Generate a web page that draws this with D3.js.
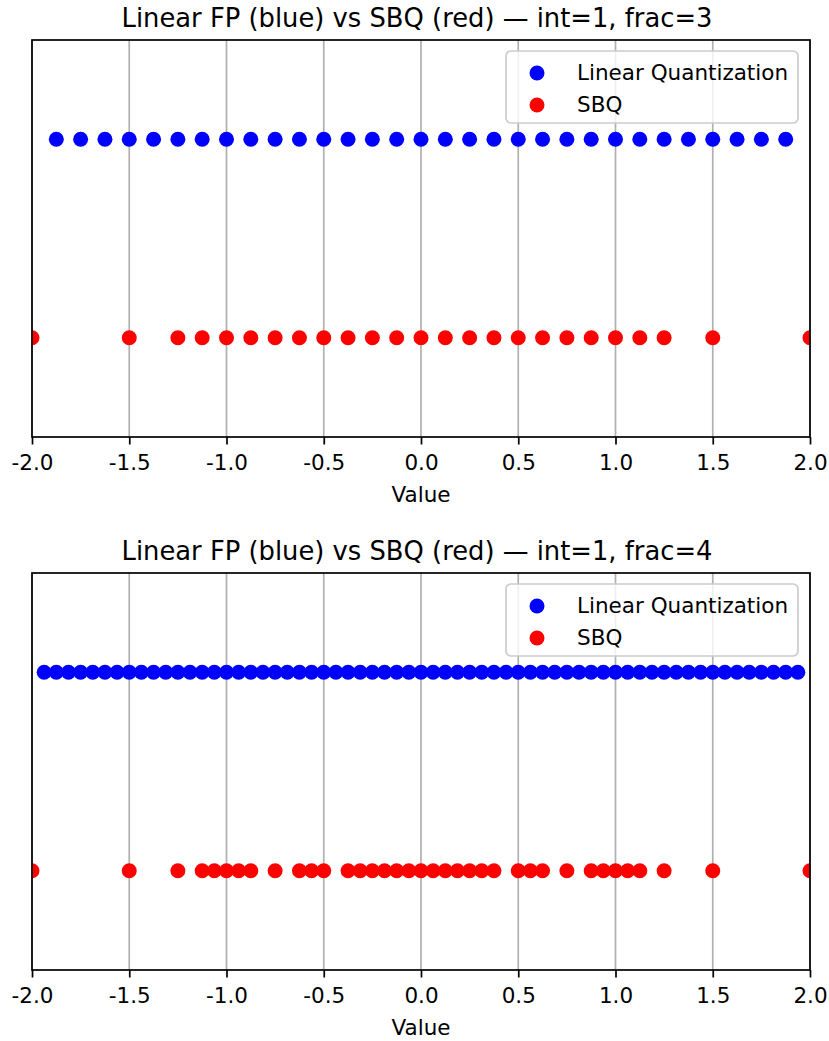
<!DOCTYPE html>
<html>
<head>
<meta charset="utf-8">
<script src="https://cdn.jsdelivr.net/npm/d3@7"></script>
<style>
    body { margin: 0; background: #fff; }
    svg { display: block; font-family: 'DejaVu Sans', sans-serif; }
</style>
</head>
<body>
<svg id="plot" width="829" height="1041"></svg>
<script>
'use strict';

// values
const linearFrac3 = [-1.875, -1.75, -1.625, -1.5, -1.375, -1.25, -1.125, -1, -0.875, -0.75, -0.625, -0.5,
    -0.375, -0.25, -0.125, 0, 0.125, 0.25, 0.375, 0.5, 0.625, 0.75, 0.875, 1, 1.125, 1.25, 1.375, 1.5,
    1.625, 1.75, 1.875];
const sbqFrac3 = [-2, -1.5, -1.25, -1.125, -1, -0.875, -0.75, -0.625, -0.5, -0.375, -0.25, -0.125, 0,
    0.125, 0.25, 0.375, 0.5, 0.625, 0.75, 0.875, 1, 1.125, 1.25, 1.5, 2];
const linearFrac4 = [-1.9375, -1.875, -1.8125, -1.75, -1.6875, -1.625, -1.5625, -1.5, -1.4375, -1.375,
    -1.3125, -1.25, -1.1875, -1.125, -1.0625, -1, -0.9375, -0.875, -0.8125, -0.75, -0.6875, -0.625,
    -0.5625, -0.5, -0.4375, -0.375, -0.3125, -0.25, -0.1875, -0.125, -0.0625, 0, 0.0625, 0.125, 0.1875,
    0.25, 0.3125, 0.375, 0.4375, 0.5, 0.5625, 0.625, 0.6875, 0.75, 0.8125, 0.875, 0.9375, 1, 1.0625,
    1.125, 1.1875, 1.25, 1.3125, 1.375, 1.4375, 1.5, 1.5625, 1.625, 1.6875, 1.75, 1.8125, 1.875, 1.9375];
const sbqFrac4 = [-2, -1.5, -1.25, -1.125, -1.0625, -1, -0.9375, -0.875, -0.75, -0.625, -0.5625, -0.5,
    -0.375, -0.3125, -0.25, -0.1875, -0.125, -0.0625, 0, 0.0625, 0.125, 0.1875, 0.25, 0.3125, 0.375,
    0.5, 0.5625, 0.625, 0.75, 0.875, 0.9375, 1, 1.0625, 1.125, 1.25, 1.5, 2];
const xTicks = [-2, -1.5, -1, -0.5, 0, 0.5, 1, 1.5, 2];
const seriesNames = ['Linear Quantization', 'SBQ'];
const seriesColors = ['#0000ff', '#ff0000'];
const titles = [
    'Linear FP (blue) vs SBQ (red) \u2014 int=1, frac=3',
    'Linear FP (blue) vs SBQ (red) \u2014 int=1, frac=4'
];

const panels = [
    { title: titles[0], linear: linearFrac3, sbq: sbqFrac3, top: 40 },
    { title: titles[1], linear: linearFrac4, sbq: sbqFrac4, top: 573 }
];

const plotLeft = 32;
const plotRight = 810;
const panelHeight = 397;
const fontSize = 21.5;
const markerRadius = 7.5;

const svg = d3.select('#plot');

function renderPanel(panel) {
    const xScale = d3.scaleLinear().domain([-2, 2]).range([plotLeft, plotRight]);
    const yScale = d3.scaleLinear().domain([-0.5, 1.5]).range([panel.top + panelHeight, panel.top]);
    const g = svg.append('g');

    svg.append('clipPath')
        .attr('id', 'clip-' + panel.top)
        .append('rect')
        .attr('x', plotLeft)
        .attr('y', panel.top)
        .attr('width', plotRight - plotLeft)
        .attr('height', panelHeight);

    // grid
    g.append('g')
        .selectAll('line')
        .data(xTicks)
        .join('line')
        .attr('x1', d => xScale(d))
        .attr('x2', d => xScale(d))
        .attr('y1', panel.top)
        .attr('y2', panel.top + panelHeight)
        .attr('stroke', '#b0b0b0')
        .attr('stroke-width', 1.7);

    // dots
    const rows = [[panel.linear, 1, seriesColors[0]], [panel.sbq, 0, seriesColors[1]]];
    rows.forEach(([values, level, color]) => {
        g.append('g')
            .attr('clip-path', 'url(#clip-' + panel.top + ')')
            .selectAll('circle')
            .data(values)
            .join('circle')
            .attr('cx', d => xScale(d))
            .attr('cy', yScale(level))
            .attr('r', markerRadius)
            .attr('fill', color);
    });

    // frame
    g.append('rect')
        .attr('x', plotLeft)
        .attr('y', panel.top)
        .attr('width', plotRight - plotLeft)
        .attr('height', panelHeight)
        .attr('fill', 'none')
        .attr('stroke', '#000')
        .attr('stroke-width', 1.7);

    // x axis
    const xAxis = d3.axisBottom(xScale)
        .tickValues(xTicks)
        .tickFormat(d => d3.format('.1f')(d).replace('\u2212', '-'))
        .tickSize(7.5)
        .tickPadding(10)
        .tickSizeOuter(0);

    g.append('g')
        .attr('transform', `translate(0, ${panel.top + panelHeight})`)
        .call(xAxis)
        .call(a => a.select('.domain').remove())
        .call(a => a.selectAll('.tick line').attr('stroke', '#000').attr('stroke-width', 1.7))
        .call(a => a.selectAll('.tick text')
            .attr('fill', '#000')
            .style('font-size', fontSize + 'px')
            .style('font-family', 'DejaVu Sans'));

    g.append('text')
        .attr('x', (plotLeft + plotRight) / 2)
        .attr('y', panel.top + panelHeight + 65)
        .attr('text-anchor', 'middle')
        .style('font-size', fontSize + 'px')
        .text('Value');

    g.append('text')
        .attr('x', (plotLeft + plotRight) / 2 - 4)
        .attr('y', panel.top - 13)
        .attr('text-anchor', 'middle')
        .style('font-size', '25.8px')
        .text(panel.title);

    // legend
    const legend = g.append('g').attr('transform', `translate(506, ${panel.top + 11})`);
    legend.append('rect')
        .attr('width', 292)
        .attr('height', 72)
        .attr('rx', 5)
        .attr('fill', '#fff')
        .attr('fill-opacity', 0.8)
        .attr('stroke', '#cccccc')
        .attr('stroke-width', 1.7);

    seriesNames.forEach((name, i) => {
        legend.append('circle')
            .attr('cx', 31)
            .attr('cy', 22 + i * 32)
            .attr('r', markerRadius)
            .attr('fill', seriesColors[i]);
        legend.append('text')
            .attr('x', 71)
            .attr('y', 21 + i * 32)
            .attr('dy', '0.36em')
            .style('font-size', fontSize + 'px')
            .text(name);
    });
}

panels.forEach(renderPanel);
</script>
</body>
</html>
